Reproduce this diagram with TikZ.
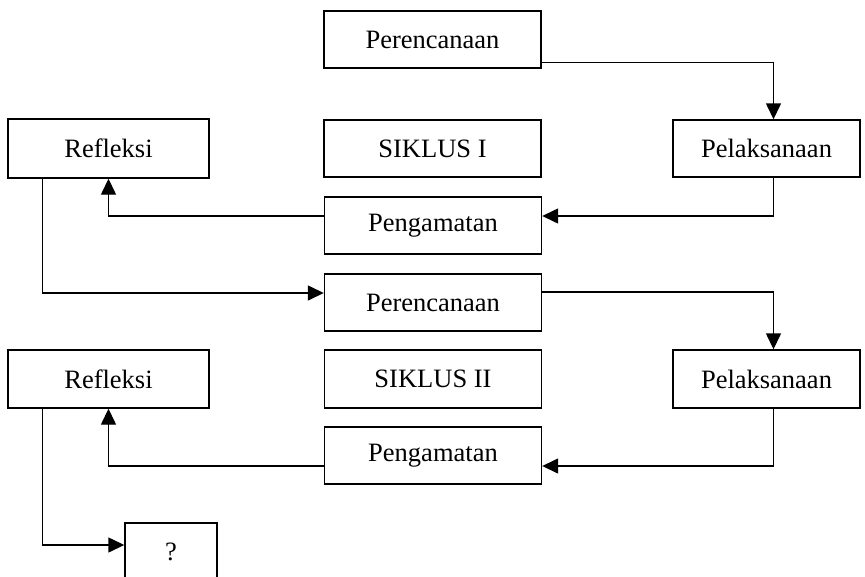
\documentclass[tikz,border=0pt]{standalone}
\usepackage{fontspec}
\setmainfont{Liberation Serif}
\usetikzlibrary{arrows.meta}

\begin{document}
\begin{tikzpicture}[x=1pt, y=-1pt, >={Triangle[length=16pt,width=15pt]},
  box/.style={draw, line width=1.4pt, minimum height=57pt, inner sep=0pt, font=\fontsize{26.5}{30}\selectfont},
  flow/.style={->, line width=1.4pt}]
\useasboundingbox (0,0) rectangle (865,576);
% siklus I
\node[box, minimum width=217pt] (per1) at (432.5,39.5) {Perencanaan};
\node[box, minimum width=201pt, minimum height=59pt] (ref1) at (108.5,148.5) {Refleksi};
\node[box, minimum width=217pt] (sik1) at (432.5,148.5) {SIKLUS I};
\node[box, minimum width=187pt] (pel1) at (766.5,148.5) {Pelaksanaan};
\node[box, minimum width=217pt] (pen1) at (433,225.5) {Pengamatan};
% siklus II
\node[box, minimum width=217pt] (per2) at (433,302.5) {Perencanaan};
\node[box, minimum width=201pt, minimum height=58pt] (ref2) at (108.5,379) {Refleksi};
\node[box, minimum width=217pt, minimum height=58pt] (sik2) at (433,379) {SIKLUS II};
\node[box, minimum width=187pt, minimum height=58pt] (pel2) at (766.5,379) {Pelaksanaan};
\node[box, minimum width=217pt] (pen2) at (433,455.5) {Pengamatan};
\node[box, minimum width=92pt] (q) at (171,551.5) {?};
% alur
\draw[flow] ([yshift=6pt]per1.south east) -| ([xshift=7pt]pel1.north);
\draw[flow] ([xshift=7pt]pel1.south) |- ([yshift=9.5pt]pen1.east);
\draw[flow] ([yshift=9.5pt]pen1.west) -| (ref1.south);
\draw[flow] ([xshift=-66pt]ref1.south) |- ([yshift=9.5pt]per2.west);
\draw[flow] ([yshift=10.5pt]per2.east) -| ([xshift=7pt]pel2.north);
\draw[flow] ([xshift=7pt]pel2.south) |- ([yshift=-10.5pt]pen2.east);
\draw[flow] ([yshift=-10.5pt]pen2.west) -| (ref2.south);
\draw[flow] ([xshift=-66pt]ref2.south) |- ([yshift=6.5pt]q.west);
\end{tikzpicture}
\end{document}
